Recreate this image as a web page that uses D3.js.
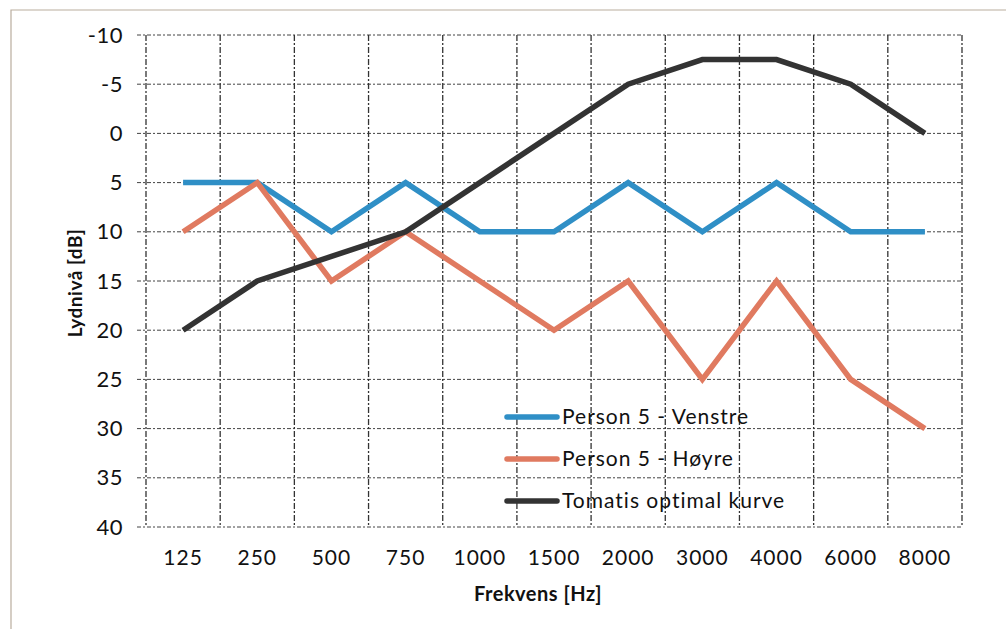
<!DOCTYPE html>
<html>
<head>
<meta charset="utf-8">
<script src="https://cdn.jsdelivr.net/npm/d3@7"></script>
<style>
  body { margin: 0; background: #fff; }
  text { font-family: Lato, "Open Sans", sans-serif; fill: #111; }
</style>
</head>
<body>
<script>
/* Data */

var frequencies = ["125", "250", "500", "750", "1000", "1500", "2000", "3000", "4000", "6000", "8000"];
var venstre = [5, 5, 10, 5, 10, 10, 5, 10, 5, 10, 10];
var hoyre = [10, 5, 15, 10, 15, 20, 15, 25, 15, 25, 30];
var tomatis = [20, 15, 12.5, 10, 5, 0, -5, -7.5, -7.5, -5, 0];
var yTicks = [-10, -5, 0, 5, 10, 15, 20, 25, 30, 35, 40];

var series = [
	{"name": "Person 5 - Venstre", "values": venstre, "color": "#2f8fc6"},
	{"name": "Person 5 - Høyre", "values": hoyre, "color": "#e07a60"},
	{"name": "Tomatis optimal kurve", "values": tomatis, "color": "#333333"}
];

/* Canvas */

var width = 1006;
var height = 629;
var plot = {left: 146, right: 962, top: 35, bottom: 527};

var svg = d3.select("body").append("svg")
	.attr("width", width)
	.attr("height", height)

// scanned page border
svg.append("path")
	.attr("d", "M11,629 V10 H1006")
	.attr("fill", "none")
	.attr("stroke", "#b9ad9e")
	.attr("stroke-width", 1.2);

var x = d3.scaleBand()
	.domain(frequencies)
	.range([plot.left, plot.right]);

var y = d3.scaleLinear()
	.domain([-10, 40])
	.range([plot.top, plot.bottom]);

// grid
var grid = svg.append("g").attr("class", "grid");

grid.selectAll("line.h")
	.data(yTicks)
	.enter().append("line")
		.attr("class", "h")
		.attr("x1", plot.left - 9)
		.attr("x2", plot.right)
		.attr("y1", function(d) { return y(d); })
		.attr("y2", function(d) { return y(d); })
		.attr("stroke", "#444")
		.attr("stroke-width", 1)
		.attr("stroke-dasharray", "4,2,2,2");

var vx = frequencies.map(function(f) { return x(f); }).concat([plot.right]);
grid.selectAll("line.v")
	.data(vx)
	.enter().append("line")
		.attr("class", "v")
		.attr("x1", function(d) { return d; })
		.attr("x2", function(d) { return d; })
		.attr("y1", plot.top)
		.attr("y2", plot.bottom)
		.attr("stroke", "#333")
		.attr("stroke-width", 1.3)
		.attr("stroke-dasharray", "6,2,2,2");

// axes (labels only)
var yAxis = d3.axisLeft(y)
	.tickValues(yTicks)
	.tickFormat(function(d) { return String(d); })
	.tickSize(0).tickPadding(0);
svg.append("g")
	.attr("transform", "translate(" + (plot.left - 23) + ",0)")
	.call(yAxis)
	.call(function(g) { g.select(".domain").remove(); })
	.selectAll("text")
		.style("font-size", "22px")
		.style("letter-spacing", "0.5px")
		.attr("fill", "#111");

var xAxis = d3.axisBottom(x).tickSize(0).tickPadding(0);
svg.append("g")
	.attr("transform", "translate(0," + (plot.bottom + 23) + ")")
	.call(xAxis)
	.call(function(g) { g.select(".domain").remove(); })
	.selectAll("text")
		.style("font-size", "21px")
		.style("letter-spacing", "1px")
		.attr("fill", "#111");

// axis titles
svg.append("text")
	.attr("x", 538)
	.attr("y", 601)
	.attr("text-anchor", "middle")
	.style("font-size", "20px")
	.style("font-weight", "bold")
	.style("letter-spacing", "0.5px")
	.attr("fill", "#333")
	.text("Frekvens [Hz]");

svg.append("text")
	.attr("transform", "translate(82,283) rotate(-90)")
	.attr("text-anchor", "middle")
	.style("font-size", "19px")
	.style("font-weight", "bold")
	.style("letter-spacing", "0.5px")
	.attr("fill", "#333")
	.text("Lydnivå [dB]");

// lines
var line = d3.line()
	.x(function(d, i) { return x(frequencies[i]) + x.bandwidth() / 2; })
	.y(function(d) { return y(d); });

svg.append("g")
	.selectAll("path")
	.data(series)
	.enter().append("path")
		.attr("d", function(d) { return line(d.values); })
		.attr("fill", "none")
		.attr("stroke", function(d) { return d.color; })
		.attr("stroke-width", 5.5)
		.attr("stroke-linejoin", "miter");

// legend
var legend = svg.append("g")
	.selectAll("g")
	.data(series)
	.enter().append("g")
		.attr("transform", function(d, i) { return "translate(507," + (417 + i * 42) + ")"; });

legend.append("line")
	.attr("x1", 0)
	.attr("x2", 50)
	.attr("stroke", function(d) { return d.color; })
	.attr("stroke-width", 5.5)
	.attr("stroke-linecap", "round");

legend.append("text")
	.attr("x", 55)
	.attr("dy", "0.35em")
	.style("font-size", "21px")
	.style("letter-spacing", "1px")
	.text(function(d) { return d.name; });
</script>
</body>
</html>
